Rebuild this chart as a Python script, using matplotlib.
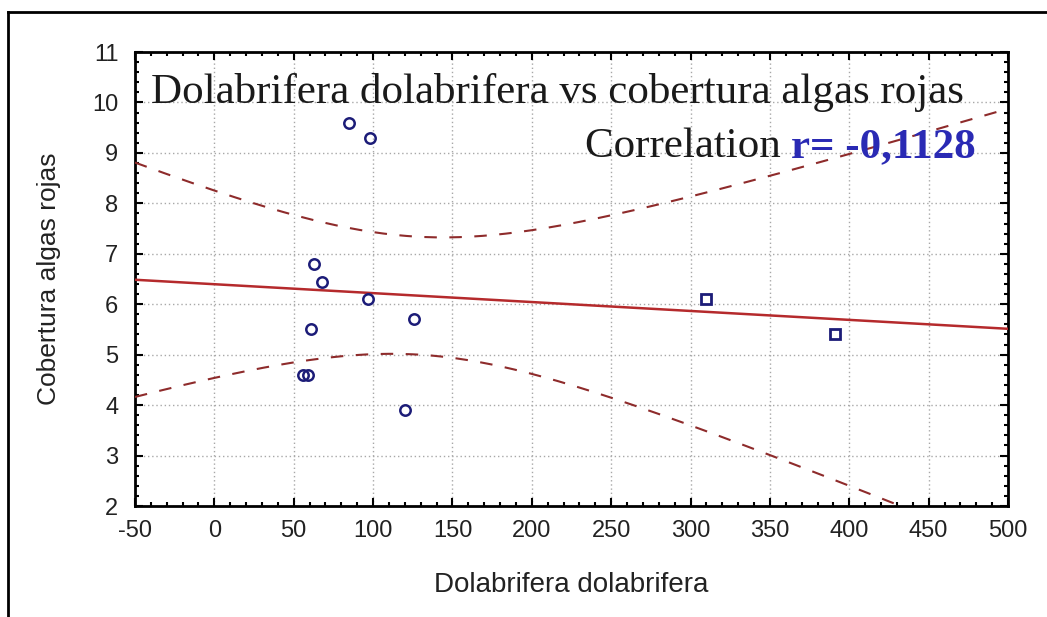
import numpy as np
import matplotlib.pyplot as plt
from matplotlib.ticker import MultipleLocator
from matplotlib.lines import Line2D

plt.rcParams['axes.unicode_minus'] = False

# Dolabrifera counts vs red algae cover
x_circ = [85, 98, 63, 68, 97, 126, 61, 56, 59, 120]
y_circ = [9.6, 9.3, 6.8, 6.45, 6.1, 5.7, 5.5, 4.6, 4.6, 3.9]
x_sq = [310, 391]
y_sq = [6.1, 5.4]
r_label = "r= -0,1128"

x_all = np.array(x_circ + x_sq, dtype=float)
y_all = np.array(y_circ + y_sq, dtype=float)

# least squares fit and 95% confidence band for the mean
n = len(x_all)
mx, my = x_all.mean(), y_all.mean()
sxx = ((x_all - mx) ** 2).sum()
slope = ((x_all - mx) * (y_all - my)).sum() / sxx
icpt = my - slope * mx
resid = y_all - (icpt + slope * x_all)
s = np.sqrt((resid ** 2).sum() / (n - 2))
t95 = 2.228  # t(0.975, df=10)

xs = np.linspace(-50, 500, 300)
fit = icpt + slope * xs
hw = t95 * s * np.sqrt(1.0 / n + (xs - mx) ** 2 / sxx)

fig = plt.figure(figsize=(10.47, 6.17), dpi=100)
ax = fig.add_axes([0.1289, 0.1799, 0.8339, 0.7358])

ax.plot(xs, fit, color='#b52a2c', lw=1.8, zorder=3)
ax.plot(xs, fit + hw, color='#8e2b2b', lw=1.5, ls=(0, (6, 6)), zorder=3)
ax.plot(xs, fit - hw, color='#8e2b2b', lw=1.5, ls=(0, (6, 6)), zorder=3)

ax.plot(x_circ, y_circ, ls='none', marker='o', ms=7.5, mfc='none',
        mec='#1c1c78', mew=1.8, zorder=4)
ax.plot(x_sq, y_sq, ls='none', marker='s', ms=7.5, mfc='none',
        mec='#1c1c78', mew=2.0, zorder=4)

ax.set_xlim(-50, 500)
ax.set_ylim(2, 11)
ax.xaxis.set_major_locator(MultipleLocator(50))
ax.xaxis.set_minor_locator(MultipleLocator(10))
ax.yaxis.set_major_locator(MultipleLocator(1))
ax.yaxis.set_minor_locator(MultipleLocator(0.2))
ax.tick_params(which='both', direction='in', top=True, right=True,
               color='black', width=1.5)
ax.tick_params(which='major', length=6, labelsize=17)
ax.tick_params(axis='x', which='major', pad=10)
ax.tick_params(axis='y', which='major', pad=12)
ax.tick_params(which='minor', length=3)
ax.grid(True, which='major', color='#a8a8a8', lw=1, ls=(0, (1, 2)))
for sp in ax.spines.values():
    sp.set_linewidth(2)

for lab in ax.get_xticklabels() + ax.get_yticklabels():
    lab.set_family('Liberation Sans')
    lab.set_color('#222222')

ax.set_xlabel('Dolabrifera dolabrifera', fontsize=20, family='Liberation Sans',
              labelpad=22, color='#222222')
ax.set_ylabel('Cobertura algas rojas', fontsize=19, family='Liberation Sans',
              labelpad=22, color='#222222')

ax.text(0.018, 0.888, 'Dolabrifera dolabrifera vs cobertura algas rojas',
        transform=ax.transAxes, fontsize=31, family='Liberation Serif',
        color='#1a1a1a', va='baseline', ha='left')
rtxt = ax.text(0.963, 0.769, r_label, transform=ax.transAxes, fontsize=31,
               family='Liberation Serif', fontweight='bold', color='#2a2ab4',
               va='baseline', ha='right')
ax.annotate('Correlation ', xy=(0, 0.769), xycoords=(rtxt, ax.transAxes),
            fontsize=31, family='Liberation Serif', color='#1a1a1a',
            va='baseline', ha='right')

# outer frame lines
fig.add_artist(Line2D([8 / 1047, 8 / 1047], [0, 1 - 12 / 617],
                      color='black', lw=2, transform=fig.transFigure))
fig.add_artist(Line2D([8 / 1047, 1], [1 - 12 / 617, 1 - 12 / 617],
                      color='black', lw=2, transform=fig.transFigure))

fig.savefig('out.png', dpi=100)
